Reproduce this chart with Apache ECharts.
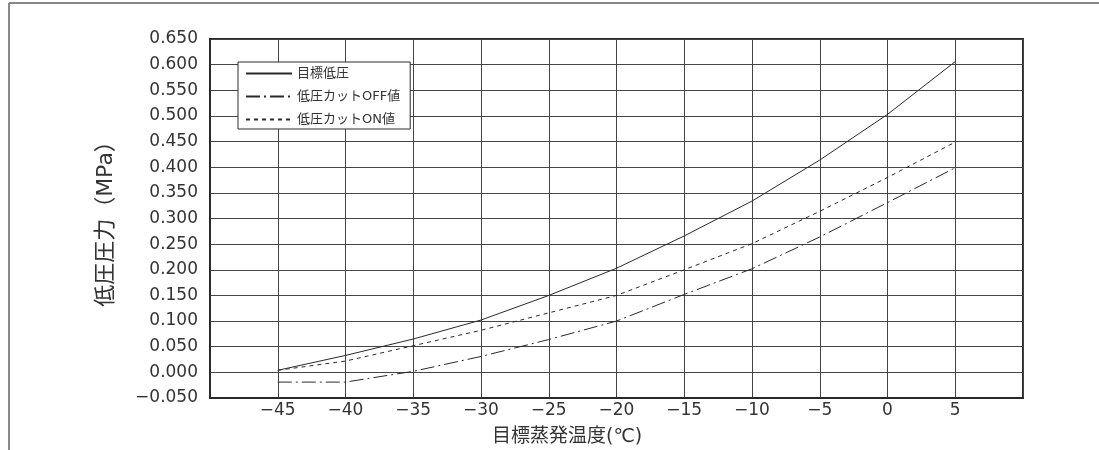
<!DOCTYPE html>
<html>
<head>
<meta charset="utf-8">
<script src="https://cdn.jsdelivr.net/npm/echarts@6/dist/echarts.min.js"></script>
<style>html,body{margin:0;padding:0;background:#fff;}#c{width:1099px;height:450px;}</style>
</head>
<body>
<div id="c"></div>
<script>
var temps = [-45, -40, -35, -30, -25, -20, -15, -10, -5, 0, 5];
var targetLow = [0.004, 0.033, 0.065, 0.102, 0.150, 0.203, 0.266, 0.334, 0.414, 0.503, 0.606];
var cutOff = [-0.019, -0.019, 0.002, 0.031, 0.064, 0.100, 0.152, 0.202, 0.264, 0.331, 0.399];
var cutOn = [0.004, 0.022, 0.052, 0.082, 0.116, 0.150, 0.200, 0.251, 0.314, 0.380, 0.449];
var seriesNames = ['目標低圧', '低圧カットOFF値', '低圧カットON値'];
var xName = '目標蒸発温度(℃)';
var yName = '低圧圧力（MPa）';

var FONT = '"DejaVu Sans", "Noto Sans CJK JP", sans-serif';
var INK = '#2a2a2a';

function pairs(vals) { return temps.map(function (t, i) { return [t, vals[i]]; }); }
function minus(s) { return s.replace('-', '\u2212'); }

var chart = echarts.init(document.getElementById('c'), null, {renderer: 'canvas'});
chart.setOption({
  animation: false,
  backgroundColor: '#fff',
  grid: {left: 210, top: 39, right: 76, bottom: 52, show: true, borderColor: INK, borderWidth: 2, backgroundColor: 'transparent'},
  xAxis: {
    type: 'value', min: -50, max: 10, interval: 5,
    axisLine: {show: true, onZero: false, lineStyle: {color: INK, width: 2}},
    axisTick: {show: false},
    splitLine: {show: true, lineStyle: {color: '#444', width: 1}},
    axisLabel: {
      color: '#333', fontFamily: FONT, fontSize: 17, margin: 4,
      formatter: function (v) { if (v <= -50 || v >= 10) return ''; return minus(String(v)); }
    }
  },
  yAxis: {
    type: 'value', min: -0.05, max: 0.65, interval: 0.05,
    name: yName, nameLocation: 'middle', nameGap: 93, nameRotate: 90,
    nameTextStyle: {color: '#333', fontFamily: FONT, fontSize: 22},
    axisLine: {show: true, onZero: false, lineStyle: {color: INK, width: 2}},
    axisTick: {show: false},
    splitLine: {show: true, lineStyle: {color: '#444', width: 1}},
    axisLabel: {
      color: '#333', fontFamily: FONT, fontSize: 17, margin: 12,
      formatter: function (v) { return minus(v.toFixed(3)); }
    }
  },
  legend: {
    orient: 'vertical', left: 238, top: 62,
    backgroundColor: '#fff', borderColor: INK, borderWidth: 1,
    padding: [5, 10, 3, 7], itemWidth: 46, itemHeight: 14, itemGap: 10,
    itemStyle: {color: 'transparent', borderColor: 'transparent', borderWidth: 0, opacity: 0},
    textStyle: {color: '#333', fontFamily: FONT, fontSize: 13},
    data: seriesNames
  },
  graphic: [
    {type: 'line', shape: {x1: 9, y1: 3, x2: 1099, y2: 3}, style: {stroke: '#888', lineWidth: 2}},
    {type: 'line', shape: {x1: 9, y1: 3, x2: 9, y2: 450}, style: {stroke: '#888', lineWidth: 2}},
    {type: 'text', left: 492, top: 428, style: {text: xName, fill: '#333', font: '19px ' + FONT}}
  ],
  series: [
    {name: seriesNames[0], type: 'line', data: pairs(targetLow), symbol: 'none', lineStyle: {color: INK, width: 1, type: 'solid'}, itemStyle: {color: INK}, z: 5},
    {name: seriesNames[1], type: 'line', data: pairs(cutOff), symbol: 'none', lineStyle: {color: INK, width: 1, type: [14, 4, 2, 4]}, itemStyle: {color: INK}, z: 5},
    {name: seriesNames[2], type: 'line', data: pairs(cutOn), symbol: 'none', lineStyle: {color: INK, width: 1, type: [4, 4]}, itemStyle: {color: INK}, z: 5}
  ]
});
</script>
</body>
</html>
